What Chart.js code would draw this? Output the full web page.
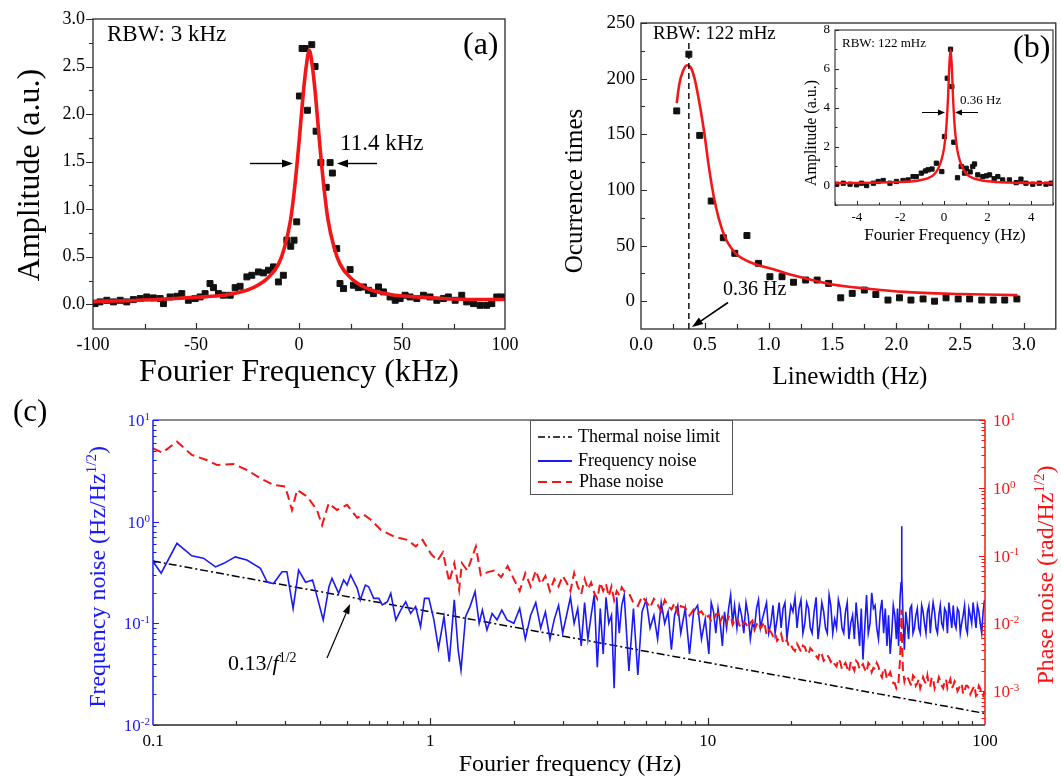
<!DOCTYPE html>
<html><head><meta charset="utf-8">
<script src="https://cdn.jsdelivr.net/npm/chart.js@4.4.0/dist/chart.umd.min.js"></script>
<style>
html,body{margin:0;padding:0;background:#fff;width:1061px;height:777px;overflow:hidden;position:relative}
canvas{position:absolute}
</style></head><body>
<canvas id="ca" width="530" height="390" style="left:0;top:0"></canvas>
<canvas id="cb" width="531" height="390" style="left:530px;top:0"></canvas>
<canvas id="ci" width="268" height="230" style="left:790px;top:20px"></canvas>
<canvas id="cc" width="1061" height="387" style="left:0;top:390px"></canvas>
<script>
const FONT = '"Liberation Serif","Times New Roman",Times,serif';
const RED = '#f31616';
const BLUE = '#1a1af2';
const FRAME = '#2a2a2a';

// ---------- Panel (a) ----------
const aX = [-99,-96.6,-93.3,-90.1,-86.8,-83.6,-80.4,-77.1,-73.9,-70.7,-67.4,-65.8,-62.6,-59.3,-56.9,-53.7,-50.4,-48.0,-45.6,-43.2,-41.5,-39.1,-36.7,-33.4,-31.0,-28.6,-25.3,-22.9,-19.7,-17.3,-14.8,-12.4,-10.0,-7.6,-5.9,-4.0,-2.4,-1.1,0.2,1.5,3.0,4.1,6.2,7.8,8.3,10.6,13.2,15.1,16.2,18.3,19.9,21.6,24.8,26.4,28.8,31.3,33.7,36.1,38.6,41.0,44.2,46.7,49.1,51.5,53.9,57.2,60.4,63.6,66.9,70.1,72.5,75.8,79.0,81.4,84.7,87.9,91.1,93.6,96.0,98.4];
const aY = [0.007,0.025,0.042,0.025,0.042,0.025,0.049,0.060,0.077,0.067,0.060,0.007,0.077,0.084,0.112,0.042,0.060,0.077,0.112,0.218,0.175,0.112,0.095,0.095,0.175,0.189,0.288,0.305,0.340,0.330,0.358,0.393,0.235,0.305,0.674,0.61,0.674,0.867,2.19,2.69,2.69,2.04,2.73,2.50,1.82,1.49,1.23,1.49,1.38,0.586,0.218,0.165,0.365,0.20,0.175,0.182,0.147,0.112,0.182,0.130,0.077,0.042,0.060,0.095,0.077,0.060,0.095,0.077,0.042,0.060,0.077,0.042,0.095,0.025,0.007,-0.011,-0.011,0.007,0.077,0.077];
const aFitX = [-100,-80,-60,-45,-35,-25,-20,-15,-10,-7,-4,-2,0,2,3.5,5,6.5,8,10,12,14,17,20,25,30,35,45,55,70,85,100];
const aFitY = [0.03,0.04,0.06,0.08,0.10,0.15,0.20,0.28,0.42,0.60,0.90,1.25,1.70,2.20,2.50,2.67,2.50,2.20,1.70,1.25,0.90,0.60,0.42,0.28,0.20,0.15,0.10,0.08,0.06,0.05,0.05];
const aXTicks = [-100,-50,0,50,100];
const aXMinor = [-75,-25,25,75];
const aYTicks = [0,0.5,1,1.5,2,2.5,3];
const aYMinor = [0.25,0.75,1.25,1.75,2.25,2.75];

// ---------- Panel (b) ----------
const bX = [0.28,0.375,0.46,0.55,0.645,0.735,0.83,0.92,1.01,1.105,1.195,1.29,1.38,1.47,1.565,1.655,1.75,1.84,1.935,2.025,2.115,2.21,2.30,2.39,2.485,2.575,2.67,2.76,2.85,2.945];
const bY = [171,222,149,90,57,43,59,34,22,22,17,19,19,16,3,7,10,6,1,3,1,2,0,3,2,2,1,1,1,2];
const bFitX = [0.28,0.30,0.33,0.36,0.39,0.42,0.45,0.48,0.50,0.53,0.57,0.61,0.66,0.70,0.74,0.80,0.90,1.03,1.2,1.5,1.8,2.06,2.5,2.95];
const bFitY = [178,195,207,212,210,200,183,163,148,122,94,74,57,49,43,38,33,29,23,15,11,8.4,6.5,5.4];
const bPeak = 0.375;
const bXTicks = [0,0.5,1,1.5,2,2.5,3];
const bXMinor = [0.25,0.75,1.25,1.75,2.25,2.75,3.25];
const bYTicks = [0,50,100,150,200,250];
const bYMinor = [25,75,125,175,225];

// ---------- Inset of (b) ----------
const iX = [-4.92,-4.62,-4.31,-4.01,-3.78,-3.55,-3.24,-3.02,-2.79,-2.48,-2.18,-1.88,-1.65,-1.42,-1.27,-1.04,-0.85,-0.73,-0.55,-0.35,-0.1,0.02,0.15,0.30,0.36,0.45,0.62,0.79,0.94,1.02,1.2,1.32,1.40,1.55,1.78,1.95,2.09,2.3,2.47,2.69,3.0,3.31,3.53,3.76,4.07,4.37,4.68,4.91];
const iY = [0.07,0.12,0.07,0.04,0.12,0.0,0.12,0.21,0.26,0.12,0.21,0.26,0.29,0.46,0.46,0.64,0.75,0.81,0.85,1.15,0.72,2.52,5.52,7.01,5.09,2.23,0.4,0.98,0.64,0.89,0.7,0.98,1.11,0.55,0.46,0.5,0.55,0.35,0.46,0.29,0.29,0.15,0.33,0.12,0.07,0.12,0.07,0.12];
const iFitX = [-5,-4,-3,-2,-1.4,-1,-0.7,-0.5,-0.3,-0.15,0,0.1,0.18,0.25,0.3,0.35,0.42,0.5,0.6,0.75,0.9,1.1,1.3,1.6,2,3,4,5];
const iFitY = [0.12,0.13,0.15,0.19,0.22,0.3,0.4,0.52,0.8,1.2,1.9,2.9,4.4,6.3,7.0,6.3,4.4,2.9,1.9,1.2,0.8,0.52,0.4,0.3,0.22,0.15,0.13,0.12];
const iXTicks = [-4,-2,0,2,4];
const iXMinor = [-5,-3,-1,1,3,5];
const iYTicks = [0,2,4,6,8];
const iYMinor = [-1,1,3,5,7];

// ---------- Panel (c) ----------
const cBlueLoX = [0.1,0.107,0.122,0.138,0.152,0.168,0.18,0.198,0.218,0.244,0.258,0.272,0.292,0.304,0.32,0.335,0.355,0.376,0.385,0.411,0.431,0.442,0.467,0.487,0.501,0.516,0.545,0.559,0.583,0.599,0.625,0.652,0.671,0.70,0.72,0.751,0.782,0.815,0.849,0.885,0.922,0.953,0.988,1.03,1.07,1.12,1.17,1.22,1.26,1.29,1.34,1.39,1.45,1.50,1.54,1.60,1.67,1.74,1.81,1.89];
const cBlueLoY = [0.405,0.311,0.612,0.462,0.437,0.359,0.389,0.45,0.419,0.347,0.254,0.246,0.322,0.322,0.14,0.334,0.254,0.267,0.212,0.108,0.229,0.277,0.197,0.267,0.238,0.299,0.221,0.17,0.238,0.229,0.176,0.176,0.152,0.163,0.197,0.108,0.135,0.163,0.125,0.146,0.0927,0.176,0.176,0.108,0.0568,0.116,0.042,0.17,0.0546,0.0347,0.116,0.146,0.205,0.1,0.135,0.086,0.125,0.108,0.135,0.108];
const cRedLoX = [0.1,0.108,0.122,0.138,0.156,0.17,0.195,0.218,0.244,0.272,0.30,0.317,0.331,0.36,0.39,0.407,0.43,0.461,0.501,0.545,0.576,0.609,0.662,0.74,0.827,0.886,0.937,1.004,1.06,1.11,1.17,1.22,1.27,1.30,1.36,1.40,1.46,1.52,1.61,1.70,1.80,1.90];
const cRedLoY = [3.8,3.3,4.79,3.05,2.57,2.17,2.24,1.83,1.38,1.10,1.04,0.47,0.93,0.74,0.47,0.28,0.59,0.47,0.56,0.36,0.40,0.34,0.24,0.19,0.17,0.136,0.17,0.107,0.084,0.112,0.041,0.077,0.031,0.077,0.06,0.084,0.136,0.051,0.057,0.06,0.048,0.07];
const cHiX = [2.0,2.1,2.2,2.3,2.4,2.5,2.6,2.7,2.8,2.9,3.0,3.1,3.2,3.3,3.4,3.5,3.6,3.7,3.8,3.9,4.0,4.1,4.2,4.3,4.4,4.5,4.6,4.7,4.8,4.9,5.0,
  5.2,5.4,5.6,5.8,6.0,6.2,6.4,6.6,6.8,7.0,7.2,7.4,7.6,7.8,8.0,
  8.3,8.6,8.9,9.2,9.5,9.8,
  10.1,10.5,10.9,11.3,11.7,12.1,12.5,
  13.0,13.5,14.0,14.5,15.0,15.5,16.0,
  16.6,17.2,17.8,18.4,19.0,19.6,
  20.3,21.0,21.7,22.4,23.1,23.8,
  24.6,25.4,26.2,27.0,27.8,
  28.7,29.6,30.5,31.4,32.3,
  33.3,34.3,35.3,36.3,37.4,38.5,39.6,
  40.7,41.9,43.1,44.3,45.5,46.7,47.9,
  48.8,49.4,49.8,50.0,50.2,50.6,51.2,
  52.4,53.7,55.0,56.3,57.7,59.1,
  60.5,62.0,63.5,65.0,66.6,68.2,69.8,
  71.5,73.2,75.0,76.8,78.6,
  80.5,82.4,84.4,86.4,88.5,
  90.6,92.8,95.0,97.3,99.6];
const cBlueHi = [0.10,0.14,0.07,0.12,0.16,0.09,0.13,0.07,0.11,0.15,0.08,0.12,0.18,0.10,0.14,0.06,0.16,0.07,0.12,0.19,0.037,0.14,0.05,0.18,0.10,0.12,0.023,0.18,0.08,0.15,0.19,
  0.034,0.14,0.031,0.13,0.17,0.09,0.12,0.07,0.16,0.10,0.13,0.055,0.12,0.15,0.08,
  0.14,0.05,0.13,0.15,0.07,0.11,
  0.05,0.13,0.14,0.06,0.09,0.19,0.15,
  0.15,0.08,0.12,0.10,0.14,0.09,0.13,
  0.08,0.15,0.11,0.09,0.16,0.10,
  0.13,0.09,0.17,0.10,0.14,0.08,
  0.18,0.10,0.13,0.08,0.15,
  0.11,0.17,0.09,0.13,0.07,
  0.12,0.16,0.06,0.044,0.19,0.10,0.14,
  0.09,0.13,0.08,0.06,0.05,0.15,0.07,
  0.06,0.18,0.25,0.9,0.3,0.12,0.055,
  0.10,0.14,0.08,0.12,0.09,0.15,
  0.10,0.13,0.08,0.16,0.09,0.12,0.10,
  0.14,0.08,0.12,0.15,0.09,
  0.13,0.10,0.15,0.08,0.12,
  0.16,0.09,0.13,0.08,0.17];
const cRedHi = [0.045,0.03,0.055,0.035,0.06,0.038,0.05,0.03,0.045,0.035,0.05,0.04,0.03,0.055,0.035,0.027,0.045,0.032,0.04,0.028,0.023,0.04,0.03,0.038,0.025,0.035,0.022,0.03,0.026,0.034,0.03,
  0.028,0.02,0.018,0.025,0.021,0.017,0.023,0.019,0.015,0.022,0.018,0.016,0.02,0.014,0.018,
  0.017,0.013,0.016,0.014,0.015,0.012,
  0.013,0.011,0.014,0.0125,0.01,0.013,0.011,
  0.0095,0.0105,0.0085,0.011,0.0095,0.0085,0.0105,
  0.008,0.0065,0.0055,0.007,0.005,0.0045,
  0.0042,0.005,0.0038,0.0045,0.0035,0.004,
  0.0033,0.0038,0.0028,0.0034,0.0027,
  0.0025,0.003,0.0021,0.0026,0.0019,
  0.0023,0.0028,0.0021,0.0025,0.0019,0.0024,0.0022,
  0.0026,0.0018,0.0022,0.0015,0.0019,0.0013,0.0011,
  0.0014,0.003,0.008,0.016,0.006,0.002,0.0014,
  0.0016,0.0013,0.0017,0.0012,0.0015,0.0013,
  0.0014,0.0017,0.0012,0.0015,0.0013,0.0016,0.0012,
  0.0014,0.0011,0.0015,0.0012,0.0013,
  0.0011,0.0013,0.0010,0.0012,0.0009,
  0.0011,0.00085,0.0012,0.0009,0.0010];
// additional read-off samples lying between the ones above (10-100 Hz)
const cMidX = [10.3,10.7,11.1,11.5,11.9,12.3,12.75,13.25,13.75,14.25,14.75,15.25,15.75,16.3,16.9,17.5,18.1,18.7,19.3,19.95,
  20.65,21.35,22.05,22.75,23.45,24.2,25.0,25.8,26.6,27.4,28.25,29.15,30.05,30.95,31.85,32.8,33.8,34.8,35.8,36.85,
  37.95,39.05,40.15,41.3,42.5,43.7,44.9,46.1,47.3,48.35,51.8,53.05,54.35,55.65,57.0,58.4,59.8,61.25,62.75,64.25,
  65.8,67.4,69.0,70.65,72.35,74.1,75.9,77.7,79.55,81.45,83.4,85.4,87.45,89.55,91.7,93.9,96.15,98.45];
const cBlueMid = [0.16,0.08,0.10,0.13,0.14,0.10,0.09,0.12,0.16,0.07,0.09,0.17,0.11,0.16,0.10,0.08,0.16,0.14,0.07,0.15,
  0.18,0.14,0.08,0.16,0.09,0.13,0.07,0.16,0.09,0.19,0.08,0.09,0.14,0.08,0.16,0.10,0.07,0.10,0.14,0.09,
  0.08,0.20,0.15,0.07,0.17,0.14,0.12,0.08,0.12,0.14,0.13,0.07,0.15,0.09,0.14,0.08,0.13,0.08,0.15,0.12,
  0.13,0.08,0.15,0.09,0.13,0.16,0.09,0.10,0.14,0.08,0.12,0.09,0.14,0.10,0.12,0.15,0.10,0.13];
const cRedMid = [0.0105,0.0135,0.0105,0.0115,0.0125,0.0095,0.012,0.0085,0.0098,0.0102,0.008,0.0105,0.0092,0.0068,0.0075,0.0072,0.006,0.0052,0.0058,0.0048,
  0.0039,0.0044,0.0047,0.0037,0.0043,0.0036,0.003,0.0035,0.003,0.0031,0.0029,0.0023,0.0027,0.0024,0.0022,0.0027,0.002,0.0026,0.0023,0.0021,
  0.0026,0.0019,0.0021,0.0023,0.0016,0.002,0.0017,0.0016,0.0013,0.0012,0.0017,0.0015,0.0012,0.0016,0.0013,0.0011,0.0016,0.0013,0.0012,0.0016,
  0.0011,0.0013,0.0014,0.0011,0.0015,0.0013,0.0011,0.0014,0.0010,0.0012,0.0009,0.0012,0.0011,0.001,0.0012,0.0009,0.0011,0.00085];
const cThermX = [0.1,100];
const cThermY = [0.41,0.013];
const cXTicks = [0.1,1,10,100];
const cXLabels = ['0.1','1','10','100'];
const cXMinor = [0.2,0.3,0.4,0.5,0.6,0.7,0.8,0.9,2,3,4,5,6,7,8,9,20,30,40,50,60,70,80,90];
const cYTicks = [0.01,0.1,1,10];
const cYExp = ['-2','-1','0','1'];
const cYMinor = [0.02,0.03,0.04,0.05,0.06,0.07,0.08,0.09,0.2,0.3,0.4,0.5,0.6,0.7,0.8,0.9,2,3,4,5,6,7,8,9];
const cY2Ticks = [0.001,0.01,0.1,1,10];
const cY2Exp = ['-3','-2','-1','0','1'];
const cY2Minor = [0.0004,0.0005,0.0006,0.0007,0.0008,0.0009,0.002,0.003,0.004,0.005,0.006,0.007,0.008,0.009,0.02,0.03,0.04,0.05,0.06,0.07,0.08,0.09,0.2,0.3,0.4,0.5,0.6,0.7,0.8,0.9,2,3,4,5,6,7,8,9];
const cY2Min = 0.000316;

// ---------- helpers ----------
function pts(xs, ys){ return xs.map((x,i)=>({x:x, y:ys[i]})); }
function byX(a,b){ return a.x-b.x; }
function tickX(ctx, s, vals, y0, len, color, lw){
  ctx.save(); ctx.strokeStyle=color; ctx.lineWidth=lw; ctx.setLineDash([]); ctx.beginPath();
  vals.forEach(v=>{ const p=Math.round(s.getPixelForValue(v))+0.5; ctx.moveTo(p,y0); ctx.lineTo(p,y0+len); });
  ctx.stroke(); ctx.restore();
}
function tickY(ctx, s, vals, x0, len, color, lw){
  ctx.save(); ctx.strokeStyle=color; ctx.lineWidth=lw; ctx.setLineDash([]); ctx.beginPath();
  vals.forEach(v=>{ const p=Math.round(s.getPixelForValue(v))+0.5; ctx.moveTo(x0,p); ctx.lineTo(x0+len,p); });
  ctx.stroke(); ctx.restore();
}
function arrow(ctx, x1,y1,x2,y2, head, hw, color, lw){
  const a=Math.atan2(y2-y1,x2-x1);
  const bx=x2-head*Math.cos(a), by=y2-head*Math.sin(a);
  ctx.save(); ctx.strokeStyle=color; ctx.fillStyle=color; ctx.lineWidth=lw; ctx.setLineDash([]);
  ctx.beginPath(); ctx.moveTo(x1,y1); ctx.lineTo(bx,by); ctx.stroke();
  ctx.beginPath(); ctx.moveTo(x2,y2);
  ctx.lineTo(bx+hw*Math.sin(a), by-hw*Math.cos(a));
  ctx.lineTo(bx-hw*Math.sin(a), by+hw*Math.cos(a));
  ctx.closePath(); ctx.fill(); ctx.restore();
}
function text(ctx, t, x, y, size, color, align, rot, base){
  ctx.save(); ctx.translate(x,y); if(rot) ctx.rotate(rot);
  ctx.font = size+'px '+FONT; ctx.fillStyle=color||'#000';
  ctx.textAlign=align||'left'; ctx.textBaseline=base||'alphabetic';
  ctx.fillText(t,0,0); ctx.restore();
}
function rich(ctx, parts, x, y, size, color, align, rot){
  ctx.save(); ctx.translate(x,y); if(rot) ctx.rotate(rot);
  ctx.fillStyle=color; ctx.textAlign='left'; ctx.textBaseline='alphabetic';
  const f = p => (p.it?'italic ':'') + (p.sup? Math.round(size*0.64) : size) + 'px ' + FONT;
  let w=0; const ws=parts.map(p=>{ ctx.font=f(p); const m=ctx.measureText(p.t).width; w+=m; return m; });
  let cx = align==='center' ? -w/2 : (align==='right' ? -w : 0);
  parts.forEach((p,i)=>{ ctx.font=f(p); ctx.fillText(p.t, cx, p.sup ? -size*0.36 : 0); cx+=ws[i]; });
  ctx.restore();
}
function frame(ctx, ca, color, lw){
  ctx.save(); ctx.strokeStyle=color; ctx.lineWidth=lw; ctx.setLineDash([]);
  ctx.strokeRect(ca.left, ca.top, ca.right-ca.left, ca.bottom-ca.top); ctx.restore();
}
function fixX(h){ return s=>{ s.height=h; s.paddingLeft=0; s.paddingRight=0; }; }
function fixY(w){ return s=>{ s.width=w; s.paddingTop=0; s.paddingBottom=0; }; }
function setTicks(vals){ return s=>{ s.ticks = vals.map(v=>({value:v})); }; }
const noGrid = {display:false, drawTicks:false};
const baseOpts = {responsive:false, animation:false, devicePixelRatio:1, events:[],
  plugins:{legend:{display:false}, tooltip:{enabled:false}}};

// ---------- Chart (a) ----------
new Chart(document.getElementById('ca'), {
  type:'scatter',
  data:{datasets:[
    {data:pts(aFitX,aFitY), showLine:true, borderColor:RED, borderWidth:3.6, pointRadius:0, cubicInterpolationMode:'monotone', order:0},
    {data:pts(aX,aY), pointStyle:'rect', pointRadius:4.2, backgroundColor:'#111', borderColor:'#111', borderWidth:1, order:1}
  ]},
  options:Object.assign({}, baseOpts, {
    layout:{padding:{top:19,right:25,left:0,bottom:0}},
    scales:{
      x:{type:'linear', min:-100, max:100, grid:noGrid, border:{display:false},
         afterBuildTicks:setTicks(aXTicks), afterFit:fixX(61),
         ticks:{font:{family:FONT,size:18}, color:'#000', padding:5, maxRotation:0, autoSkip:false, callback:v=>String(v)}},
      y:{type:'linear', min:-0.26, max:3.0, grid:noGrid, border:{display:false},
         afterBuildTicks:setTicks(aYTicks), afterFit:fixY(93),
         ticks:{font:{family:FONT,size:18}, color:'#000', padding:8, autoSkip:false, callback:v=>v.toFixed(1)}}
    }
  }),
  plugins:[{id:'annA', afterDraw(chart){
    const {ctx, chartArea:ca, scales:{x,y}} = chart;
    frame(ctx, ca, FRAME, 1.3);
    tickY(ctx, y, aYTicks, ca.left, -7, FRAME, 1.2);
    tickY(ctx, y, aYMinor, ca.left, -4, FRAME, 1.2);
    tickX(ctx, x, aXTicks.slice(1,-1), ca.bottom, -6, FRAME, 1.2);
    tickX(ctx, x, aXMinor, ca.bottom, -5, FRAME, 1.2);
    text(ctx, 'RBW: 3 kHz', 107, 41, 23);
    text(ctx, '(a)', 463, 54, 32);
    text(ctx, '11.4 kHz', 340, 150, 23);
    arrow(ctx, 250, 163.5, 293, 163.5, 11, 4, '#000', 1.4);
    arrow(ctx, 377, 163.5, 337, 163.5, 11, 4, '#000', 1.4);
    text(ctx, 'Amplitude (a.u.)', 39, 175, 32, '#000', 'center', -Math.PI/2);
    text(ctx, 'Fourier Frequency (kHz)', 299, 381, 32, '#000', 'center');
  }}]
});

// ---------- Chart (b) ----------
new Chart(document.getElementById('cb'), {
  type:'scatter',
  data:{datasets:[
    {data:pts(bFitX,bFitY), showLine:true, borderColor:RED, borderWidth:2.6, pointRadius:0, cubicInterpolationMode:'monotone', order:0},
    {data:pts(bX,bY), pointStyle:'rect', pointRadius:4.2, backgroundColor:'#111', borderColor:'#111', borderWidth:1, order:1}
  ]},
  options:Object.assign({}, baseOpts, {
    layout:{padding:{top:23,right:1,left:0,bottom:0}},
    scales:{
      x:{type:'linear', min:0, max:3.25, grid:noGrid, border:{display:false},
         afterBuildTicks:setTicks(bXTicks), afterFit:fixX(61),
         ticks:{font:{family:FONT,size:19}, color:'#000', padding:5, maxRotation:0, autoSkip:false, callback:v=>v.toFixed(1)}},
      y:{type:'linear', min:-25, max:250, grid:noGrid, border:{display:false},
         afterBuildTicks:setTicks(bYTicks), afterFit:fixY(111),
         ticks:{font:{family:FONT,size:19}, color:'#000', padding:6, autoSkip:false, callback:v=>String(v)}}
    }
  }),
  plugins:[{id:'annB', afterDraw(chart){
    const {ctx, chartArea:ca, scales:{x,y}} = chart;
    frame(ctx, ca, FRAME, 1.3);
    tickY(ctx, y, bYTicks, ca.left, 6, FRAME, 1.2);
    tickY(ctx, y, bYMinor, ca.left, 4, FRAME, 1.2);
    tickX(ctx, x, bXTicks.slice(1), ca.bottom, -6, FRAME, 1.2);
    tickX(ctx, x, bXMinor.slice(0,-1), ca.bottom, -5, FRAME, 1.2);
    const px = x.getPixelForValue(bPeak);
    ctx.save(); ctx.strokeStyle='#111'; ctx.lineWidth=1.5; ctx.setLineDash([6,4]);
    ctx.beginPath(); ctx.moveTo(px, y.getPixelForValue(232)); ctx.lineTo(px, ca.bottom); ctx.stroke(); ctx.restore();
    ctx.save(); ctx.translate(-530,0);
    text(ctx, 'RBW: 122 mHz', 653, 39, 19);
    text(ctx, '(b)', 1013, 57, 32);
    text(ctx, '0.36 Hz', 723, 295, 20);
    arrow(ctx, 728, 302.5, 692, 327, 11, 4, '#000', 1.6);
    text(ctx, 'Ocurrence times', 582, 191, 25, '#000', 'center', -Math.PI/2);
    text(ctx, 'Linewidth (Hz)', 850, 384, 25, '#000', 'center');
    ctx.restore();
  }}]
});

// ---------- Inset ----------
new Chart(document.getElementById('ci'), {
  type:'scatter',
  data:{datasets:[
    {data:pts(iFitX,iFitY), showLine:true, borderColor:RED, borderWidth:2.4, pointRadius:0, cubicInterpolationMode:'monotone', order:0},
    {data:pts(iX,iY), pointStyle:'rect', pointRadius:3, backgroundColor:'#111', borderColor:'#111', borderWidth:1, order:1}
  ]},
  options:Object.assign({}, baseOpts, {
    layout:{padding:{top:10,right:5,left:0,bottom:0}},
    scales:{
      x:{type:'linear', min:-5, max:5, grid:noGrid, border:{display:false},
         afterBuildTicks:setTicks(iXTicks), afterFit:fixX(45),
         ticks:{font:{family:FONT,size:13}, color:'#000', padding:5, maxRotation:0, autoSkip:false, callback:v=>String(v)}},
      y:{type:'linear', min:-1, max:8, grid:noGrid, border:{display:false},
         afterBuildTicks:setTicks(iYTicks), afterFit:fixY(45),
         ticks:{font:{family:FONT,size:13}, color:'#000', padding:5, autoSkip:false, callback:v=>String(v)}}
    }
  }),
  plugins:[{id:'annI', afterDraw(chart){
    const {ctx, chartArea:ca, scales:{x,y}} = chart;
    frame(ctx, ca, FRAME, 1.1);
    tickY(ctx, y, iYTicks, ca.left, 4, FRAME, 1);
    tickY(ctx, y, iYMinor, ca.left, 2.5, FRAME, 1);
    tickX(ctx, x, iXTicks, ca.bottom, -4, FRAME, 1);
    tickX(ctx, x, iXMinor, ca.bottom, -2.5, FRAME, 1);
    ctx.save(); ctx.translate(-790,-20);
    text(ctx, 'RBW: 122 mHz', 842, 47, 13);
    text(ctx, '0.36 Hz', 960, 104, 13);
    arrow(ctx, 922, 112.5, 945, 112.5, 7, 3, '#000', 1);
    arrow(ctx, 978, 112.5, 955, 112.5, 7, 3, '#000', 1);
    text(ctx, 'Amplitude (a.u.)', 816, 133, 16, '#000', 'center', -Math.PI/2);
    text(ctx, 'Fourier Frequency (Hz)', 945, 240, 17, '#000', 'center');
    ctx.restore();
  }}]
});

// ---------- Chart (c) ----------
const cBlueData = pts(cBlueLoX, cBlueLoY).concat(pts(cHiX, cBlueHi), pts(cMidX, cBlueMid)).sort(byX);
const cRedData = pts(cRedLoX, cRedLoY).concat(pts(cHiX, cRedHi), pts(cMidX, cRedMid)).sort(byX);
new Chart(document.getElementById('cc'), {
  type:'scatter',
  data:{datasets:[
    {data:cRedData, yAxisID:'y2', showLine:true, borderColor:RED, borderWidth:2, borderDash:[9,5], pointRadius:0, order:0},
    {data:cBlueData, yAxisID:'y', showLine:true, borderColor:BLUE, borderWidth:1.6, pointRadius:0, order:1},
    {data:pts(cThermX, cThermY), yAxisID:'y', showLine:true, borderColor:'#000', borderWidth:1.5, borderDash:[8,3,2,3], pointRadius:0, order:2}
  ]},
  options:Object.assign({}, baseOpts, {
    layout:{padding:{top:30,right:0,left:0,bottom:0}},
    scales:{
      x:{type:'logarithmic', min:0.1, max:100, bounds:'data', grid:noGrid, border:{display:false},
         afterBuildTicks:setTicks(cXTicks), afterFit:fixX(52),
         ticks:{font:{family:FONT,size:17}, color:'#000', padding:6, maxRotation:0, autoSkip:false, callback:(v,i)=>cXLabels[i]}},
      y:{type:'logarithmic', position:'left', min:0.01, max:10, bounds:'data', grid:noGrid, border:{display:false},
         afterFit:fixY(153), ticks:{display:false}},
      y2:{type:'logarithmic', position:'right', min:cY2Min, max:10, bounds:'data', grid:noGrid, border:{display:false},
         afterFit:fixY(76), ticks:{display:false}}
    }
  }),
  plugins:[{id:'annC', afterDraw(chart){
    const {ctx, chartArea:ca, scales:{x,y,y2}} = chart;
    ctx.save(); ctx.setLineDash([]); ctx.lineWidth=1.3;
    ctx.strokeStyle='#666'; ctx.beginPath(); ctx.moveTo(ca.left,ca.top); ctx.lineTo(ca.right,ca.top); ctx.stroke();
    ctx.strokeStyle=FRAME; ctx.beginPath(); ctx.moveTo(ca.left,ca.bottom); ctx.lineTo(ca.right,ca.bottom); ctx.stroke();
    ctx.lineWidth=1.5;
    ctx.strokeStyle=BLUE; ctx.beginPath(); ctx.moveTo(ca.left,ca.top); ctx.lineTo(ca.left,ca.bottom); ctx.stroke();
    ctx.strokeStyle=RED; ctx.beginPath(); ctx.moveTo(ca.right,ca.top); ctx.lineTo(ca.right,ca.bottom); ctx.stroke();
    ctx.restore();
    tickX(ctx, x, cXTicks.slice(1,-1), ca.bottom, -7, FRAME, 1.2);
    tickX(ctx, x, cXMinor, ca.bottom, -4, FRAME, 1.2);
    tickY(ctx, y, cYTicks, ca.left, 6, BLUE, 1.2);
    tickY(ctx, y, cYMinor, ca.left, 3.5, BLUE, 1.1);
    tickY(ctx, y2, cY2Ticks, ca.right, -6, RED, 1.2);
    tickY(ctx, y2, cY2Minor, ca.right, -3.5, RED, 1.1);
    cYTicks.forEach((v,i)=>{ rich(ctx, [{t:'10'},{t:cYExp[i],sup:true}], ca.left-3, y.getPixelForValue(v)+6, 17, BLUE, 'right'); });
    cY2Ticks.forEach((v,i)=>{ rich(ctx, [{t:'10'},{t:cY2Exp[i],sup:true}], ca.right+8, y2.getPixelForValue(v)+6, 17, RED, 'left'); });
    ctx.save(); ctx.translate(0,-390);
    text(ctx, '(c)', 13, 421, 31);
    rich(ctx, [{t:'Frequency noise (Hz/Hz'},{t:'1/2',sup:true},{t:')'}], 105, 577, 24, BLUE, 'center', -Math.PI/2);
    rich(ctx, [{t:'Phase noise (rad/Hz'},{t:'1/2',sup:true},{t:')'}], 1053, 575, 24, RED, 'center', -Math.PI/2);
    text(ctx, 'Fourier frequency (Hz)', 570, 771, 24, '#000', 'center');
    rich(ctx, [{t:'0.13/'},{t:'f',it:true},{t:'1/2',sup:true}], 228, 670, 22, '#000', 'left');
    arrow(ctx, 327, 658, 350, 604, 10, 3.5, '#000', 1.2);
    ctx.save();
    ctx.fillStyle='#fff'; ctx.fillRect(530,420,203,75);
    ctx.strokeStyle='#555'; ctx.lineWidth=1; ctx.strokeRect(530.5,420.5,202,74);
    ctx.lineWidth=1.5; ctx.strokeStyle='#000'; ctx.setLineDash([7,3,2,3]);
    ctx.beginPath(); ctx.moveTo(538,437); ctx.lineTo(572,437); ctx.stroke();
    ctx.setLineDash([]); ctx.strokeStyle=BLUE; ctx.lineWidth=1.8;
    ctx.beginPath(); ctx.moveTo(538,461); ctx.lineTo(572,461); ctx.stroke();
    ctx.setLineDash([9,5]); ctx.strokeStyle=RED; ctx.lineWidth=2;
    ctx.beginPath(); ctx.moveTo(538,482); ctx.lineTo(572,482); ctx.stroke();
    ctx.restore();
    text(ctx, 'Thermal noise limit', 578, 437, 18, '#000', 'left', 0, 'middle');
    text(ctx, 'Frequency noise', 578, 461, 18, '#000', 'left', 0, 'middle');
    text(ctx, 'Phase noise', 579, 482, 18, '#000', 'left', 0, 'middle');
    ctx.restore();
  }}]
});
</script></body></html>
